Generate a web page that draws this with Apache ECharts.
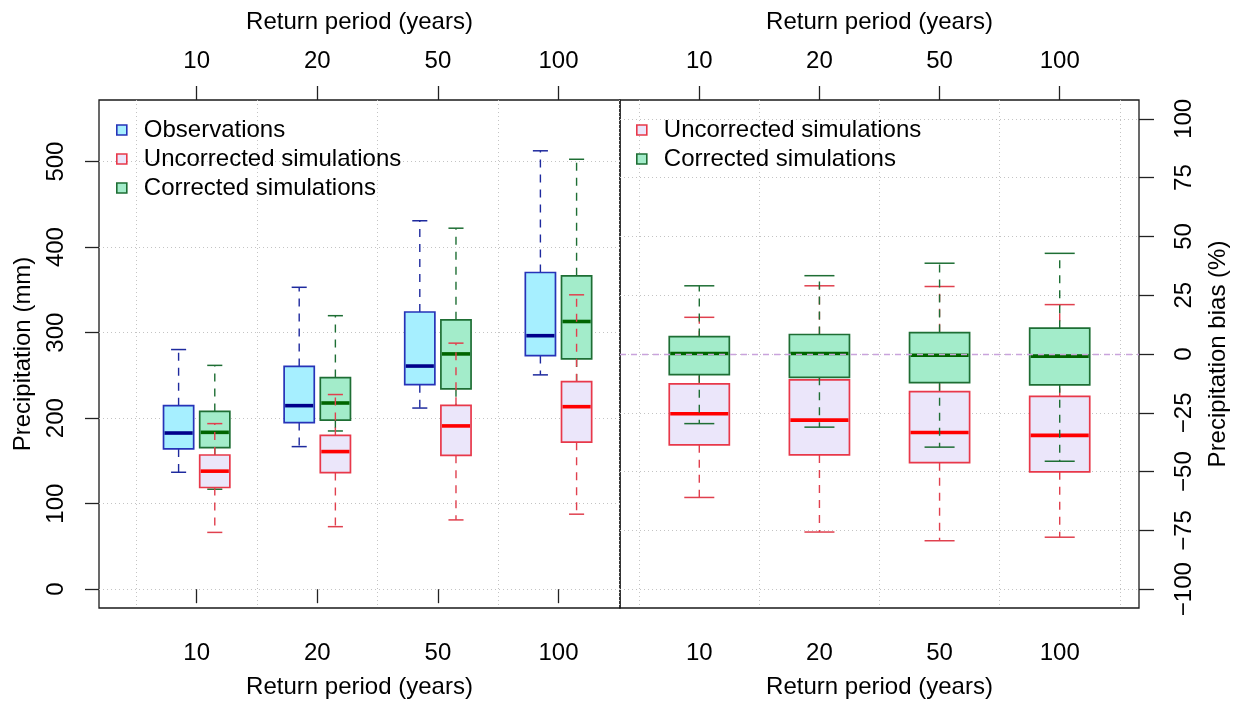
<!DOCTYPE html>
<html>
<head>
<meta charset="utf-8">
<script src="https://cdn.jsdelivr.net/npm/echarts@6/dist/echarts.min.js"></script>
<style>
html,body{margin:0;padding:0;background:#fff;}
#chart{width:1241px;height:707px;}
</style>
</head>
<body>
<div id="chart"></div>
<script>
// ---------- data ----------
const categories = ['10', '20', '50', '100'];
const xName = 'Return period (years)';
// each row: [lower whisker, Q1, median, Q3, upper whisker]
const obsPrecip = [
  [136.7, 164.0, 182.6, 214.6, 280.2],
  [166.7, 194.8, 214.6, 260.5, 353.0],
  [211.8, 239.1, 260.9, 324.1, 430.8],
  [250.6, 273.1, 296.4, 370.3, 512.6]
];
const uncorrPrecip = [
  [66.4, 118.9, 138.0, 156.9, 193.6],
  [73.1, 136.3, 160.9, 179.8, 227.6],
  [81.0, 156.5, 190.9, 215.0, 287.7],
  [87.7, 171.9, 213.4, 242.6, 344.2]
];
const corrPrecip = [
  [116.9, 165.6, 183.4, 207.9, 261.7],
  [185.0, 197.6, 217.7, 247.4, 319.8],
  [200.0, 234.3, 275.1, 315.0, 422.1],
  [235.0, 269.2, 313.0, 366.4, 502.7]
];
const uncorrBias = [
  [-61.0, -38.6, -25.4, -12.7, 15.6],
  [-75.7, -42.9, -28.1, -11.0, 29.0],
  [-79.4, -46.2, -33.4, -16.0, 28.7],
  [-77.9, -50.1, -34.6, -18.0, 21.0]
];
const corrBias = [
  [-29.6, -8.8, 0.2, 7.4, 29.0],
  [-31.1, -9.9, 0.2, 8.3, 33.3],
  [-39.6, -12.2, -0.5, 9.1, 38.6],
  [-45.6, -13.1, -0.9, 11.0, 42.8]
];
const precipTicks = [0, 100, 200, 300, 400, 500];
const biasTicks = [-100, -75, -50, -25, 0, 25, 50, 75, 100];
const catPositions = [1, 2, 3, 4];
const gridPositions = [0.5, 1.5, 2.5, 3.5, 4.5];
const seriesNames = ['Observations', 'Uncorrected simulations', 'Corrected simulations'];

// ---------- styles ----------
const FONT = "'Liberation Sans', Arial, Helvetica, sans-serif";
const STY = {
  obs:    { fill: '#a6efff', stroke: '#2633b8', median: '#00008b', whisker: '#1e2a9e' },
  uncorr: { fill: '#ebe6fa', stroke: '#e8384a', median: '#ff0000', whisker: '#e0404e' },
  corr:   { fill: '#a3ecca', stroke: '#1e6e34', median: '#006400', whisker: '#1e6e34' }
};

function rows(arr, offset) {
  return arr.map((v, i) => [catPositions[i] + offset].concat(v));
}

function makeRender(widthUnits, s) {
  return function (params, api) {
    const x = api.value(0);
    const lo = api.coord([x, api.value(1)]);
    const q1 = api.coord([x, api.value(2)]);
    const md = api.coord([x, api.value(3)]);
    const q3 = api.coord([x, api.value(4)]);
    const hi = api.coord([x, api.value(5)]);
    const w = api.size([widthUnits, 0])[0];
    const cx = lo[0];
    const sw = w / 4;
    const dashStyle = { stroke: s.whisker, lineWidth: 1.4, lineDash: [8, 7] };
    const solid = { stroke: s.whisker, lineWidth: 1.5 };
    return {
      type: 'group',
      children: [
        { type: 'line', shape: { x1: cx, y1: q1[1], x2: cx, y2: lo[1] }, style: dashStyle },
        { type: 'line', shape: { x1: cx, y1: q3[1], x2: cx, y2: hi[1] }, style: dashStyle },
        { type: 'line', shape: { x1: cx - sw, y1: lo[1], x2: cx + sw, y2: lo[1] }, style: solid },
        { type: 'line', shape: { x1: cx - sw, y1: hi[1], x2: cx + sw, y2: hi[1] }, style: solid },
        { type: 'rect', shape: { x: cx - w / 2, y: q3[1], width: w, height: q1[1] - q3[1] },
          style: { fill: s.fill, stroke: s.stroke, lineWidth: 1.7 } },
        { type: 'line', shape: { x1: cx - w / 2 + 1, y1: md[1], x2: cx + w / 2 - 1, y2: md[1] },
          style: { stroke: s.median, lineWidth: 3.6 } }
      ]
    };
  };
}

function boxSeries(name, data, xi, yi, widthUnits, s) {
  return {
    type: 'custom', name: name, xAxisIndex: xi, yAxisIndex: yi,
    data: data, encode: { x: 0, y: [1, 2, 3, 4, 5] },
    renderItem: makeRender(widthUnits, s), silent: true, animation: false, clip: false
  };
}

const fmtNum = v => (v < 0 ? '\u2212' + Math.abs(v) : String(v));
const catFmt = v => categories[catPositions.indexOf(Math.round(v))] || '';

function xAxes(gridIndex, min, max) {
  const common = {
    type: 'value', gridIndex: gridIndex, min: min, max: max,
    axisLine: { show: false },
    splitLine: { show: false },
    axisTick: { show: true, customValues: catPositions, length: 14, lineStyle: { color: '#222', width: 1.3 } },
    axisLabel: { customValues: catPositions, formatter: catFmt, fontSize: 24, color: '#000', fontFamily: FONT },
    name: xName, nameLocation: 'middle',
    nameTextStyle: { fontSize: 24, color: '#000', fontFamily: FONT }
  };
  return [
    Object.assign({}, common, { position: 'bottom', nameGap: 67,
      axisLabel: Object.assign({}, common.axisLabel, { margin: 33 }) }),
    Object.assign({}, common, { position: 'top', nameGap: 66,
      axisLabel: Object.assign({}, common.axisLabel, { margin: 27 }) }),
    {
      type: 'value', gridIndex: gridIndex, min: min, max: max, position: 'bottom',
      axisLine: { show: false }, axisLabel: { show: false },
      axisTick: { show: false, customValues: gridPositions },
      splitLine: { show: true, lineStyle: { color: '#c4c4c4', type: [1, 3], width: 1 } }
    }
  ];
}

const chart = echarts.init(document.getElementById('chart'), null, { renderer: 'canvas' });

const legendText = { fontSize: 24, lineHeight: 24, color: '#000', fontFamily: FONT, padding: [0, 0, 0, 12] };

const option = {
  animation: false,
  backgroundColor: '#fff',
  textStyle: { fontFamily: FONT },
  grid: [
    { left: 99, top: 100, width: 521, height: 508, show: true, borderColor: '#1a1a1a', borderWidth: 1.3, backgroundColor: 'transparent' },
    { left: 620, top: 100, width: 519, height: 508, show: true, borderColor: '#1a1a1a', borderWidth: 1.3, backgroundColor: 'transparent' }
  ],
  xAxis: [].concat(xAxes(0, 0.19, 4.51), xAxes(1, 0.34, 4.66)),
  yAxis: [
    {
      type: 'value', gridIndex: 0, min: -22, max: 572, position: 'left',
      axisLine: { show: false },
      axisTick: { show: true, customValues: precipTicks, length: 14, lineStyle: { color: '#222', width: 1.3 } },
      axisLabel: { customValues: precipTicks, formatter: fmtNum, rotate: 90, margin: 31, fontSize: 24, color: '#000', fontFamily: FONT },
      splitLine: { show: true, lineStyle: { color: '#c4c4c4', type: [1, 3], width: 1 } },
      name: 'Precipitation (mm)', nameLocation: 'middle', nameRotate: 90, nameGap: 64,
      nameTextStyle: { fontSize: 24, color: '#000', fontFamily: FONT }
    },
    {
      type: 'value', gridIndex: 1, min: -108, max: 108, position: 'right',
      axisLine: { show: false },
      axisTick: { show: true, customValues: biasTicks, length: 15, lineStyle: { color: '#222', width: 1.3 } },
      axisLabel: { customValues: biasTicks, formatter: fmtNum, rotate: 90, margin: 33, fontSize: 24, color: '#000', fontFamily: FONT },
      splitLine: { show: true, lineStyle: { color: '#c4c4c4', type: [1, 3], width: 1 } },
      name: 'Precipitation bias (%)', nameLocation: 'middle', nameRotate: 90, nameGap: 67,
      nameTextStyle: { fontSize: 24, color: '#000', fontFamily: FONT }
    }
  ],
  legend: [
    {
      orient: 'vertical', left: 116, top: 118, padding: 0, itemWidth: 10, itemHeight: 10, itemGap: 5,
      selectedMode: false, textStyle: legendText,
      data: [
        { name: seriesNames[0], icon: 'rect', itemStyle: { color: STY.obs.fill, borderColor: STY.obs.stroke, borderWidth: 1.6 } },
        { name: seriesNames[1], icon: 'rect', itemStyle: { color: STY.uncorr.fill, borderColor: STY.uncorr.stroke, borderWidth: 1.6 } },
        { name: seriesNames[2], icon: 'rect', itemStyle: { color: STY.corr.fill, borderColor: STY.corr.stroke, borderWidth: 1.6 } }
      ]
    },
    {
      orient: 'vertical', left: 636, top: 118, padding: 0, itemWidth: 10, itemHeight: 10, itemGap: 5,
      selectedMode: false, textStyle: legendText,
      data: [
        { name: seriesNames[1], icon: 'rect', itemStyle: { color: STY.uncorr.fill, borderColor: STY.uncorr.stroke, borderWidth: 1.6 } },
        { name: seriesNames[2], icon: 'rect', itemStyle: { color: STY.corr.fill, borderColor: STY.corr.stroke, borderWidth: 1.6 } }
      ]
    }
  ],
  series: [
    boxSeries(seriesNames[0], rows(obsPrecip, -0.15), 0, 0, 0.25, STY.obs),
    boxSeries(seriesNames[2], rows(corrPrecip, 0.15), 0, 0, 0.25, STY.corr),
    boxSeries(seriesNames[1], rows(uncorrPrecip, 0.15), 0, 0, 0.25, STY.uncorr),
    boxSeries(seriesNames[1], rows(uncorrBias, 0), 3, 1, 0.5, STY.uncorr),
    Object.assign(boxSeries(seriesNames[2], rows(corrBias, 0), 3, 1, 0.5, STY.corr), {
      markLine: {
        silent: true, symbol: 'none', animation: false,
        label: { show: false },
        lineStyle: { color: '#c9a3dc', type: [6, 5], width: 1.3 },
        data: [{ yAxis: 0 }]
      }
    })
  ]
};
chart.setOption(option);
</script>
</body>
</html>
